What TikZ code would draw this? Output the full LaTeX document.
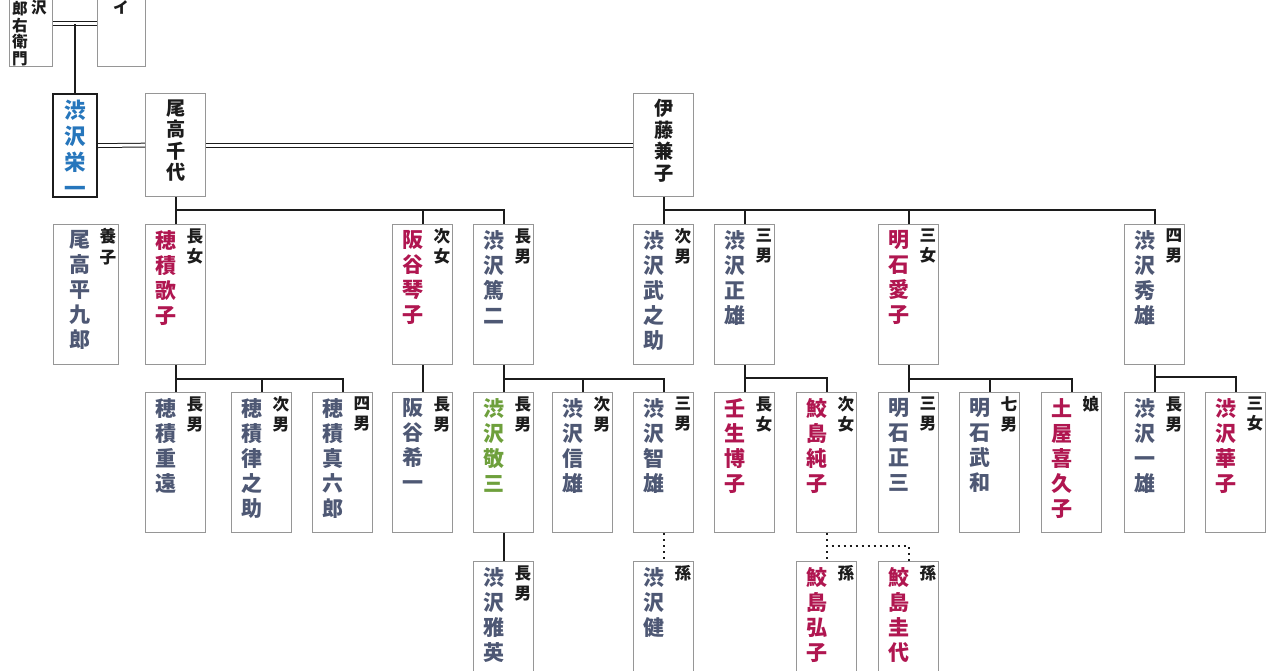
\documentclass[tikz,border=0pt]{standalone}
\usepackage{fontspec}
\setmainfont{Noto Sans CJK JP}
\definecolor{slate}{RGB}{78,88,116}
\definecolor{rose}{RGB}{176,22,80}
\definecolor{moss}{RGB}{110,160,60}
\definecolor{sky}{RGB}{38,118,188}
\definecolor{frame}{RGB}{150,150,150}
\definecolor{ink}{RGB}{28,28,28}
\begin{document}
\begin{tikzpicture}[x=0.5pt, y=-0.5pt,
    box/.style={draw=frame, line width=0.6pt, minimum width=30pt, minimum height=70pt, inner sep=0, anchor=north west},
    namecol/.style={font=\bfseries\fontsize{10.5}{12.5}\selectfont, align=center, inner sep=0, anchor=north},
    rolecol/.style={font=\bfseries\fontsize{8.3}{10.2}\selectfont, align=center, inner sep=0, anchor=north, text=ink},
    kin/.style={draw=ink, line width=1pt},
    wed/.style={draw=ink, double, double distance=1.4pt, line width=0.5pt},
    heir/.style={draw=ink, line width=1pt, dotted}]
    % 1. Page and clipping
    \fill[white] (0,0) rectangle (1280,670);
    \useasboundingbox (0,0) rectangle (1280,670);
    \clip (0,0) rectangle (1280,670);

    % 2. Top couple (cut off by the page edge)
    \node[box, minimum width=21.5pt, minimum height=43pt] (ichiro) at (9,-20) {};
    \node[box, minimum width=24pt, minimum height=43pt] (ei) at (97,-20) {};
    \node[rolecol, font=\bfseries\fontsize{7.8}{8.3}\selectfont] at (20,1) {郎\\右\\衛\\門};
    \node[rolecol, font=\bfseries\fontsize{7.8}{8.3}\selectfont] at (39,0) {沢};
    \node[rolecol, font=\bfseries\fontsize{7.8}{8.3}\selectfont] at (121,0) {イ};
    \draw[wed] (ichiro.east) -- (ei.west);

    % 3. Eiichi and his wives
    \node[box, draw=ink, line width=1.1pt, minimum width=22pt, minimum height=51.5pt] (eiichi) at (52,93) {};
    \node[box, minimum height=51.5pt] (chiyo) at (145,93) {};
    \node[box, minimum height=51.5pt] (kaneko) at (633,93) {};
    \node[namecol, text=sky, font=\bfseries\fontsize{10.8}{13}\selectfont] at ([shift={(0,7)}]eiichi.north) {渋\\沢\\栄\\一};
    \node[namecol, text=ink, font=\bfseries\fontsize{9.6}{10.8}\selectfont] at ([shift={(0,6)}]chiyo.north) {尾\\高\\千\\代};
    \node[namecol, text=ink, font=\bfseries\fontsize{9.6}{10.8}\selectfont] at ([shift={(0,6)}]kaneko.north) {伊\\藤\\兼\\子};
    \draw[kin] (eiichi.north) -- (eiichi.north |- ichiro.east);
    \draw[wed] (eiichi.east) -- (chiyo.west);
    \draw[wed] (chiyo.east) -- (kaneko.west);

    % 4. Adopted son
    \node[box, minimum width=32.5pt] (heikuro) at (53,224) {};
    \node[namecol, text=slate] at (80,230) {尾\\高\\平\\九\\郎};
    \node[rolecol] at (108,228) {養\\子};

    % 5. Children, grandchildren and great-grandchildren
    \foreach \id/\x/\y/\nm/\rl/\col in {
        utako/145/224/{穂\\積\\歌\\子}/{長\\女}/rose,
        kotoko/392/224/{阪\\谷\\琴\\子}/{次\\女}/rose,
        atsuji/473/224/{渋\\沢\\篤\\二}/{長\\男}/slate,
        takenosuke/633/224/{渋\\沢\\武\\之\\助}/{次\\男}/slate,
        masao/714/224/{渋\\沢\\正\\雄}/{三\\男}/slate,
        aiko/878/224/{明\\石\\愛\\子}/{三\\女}/rose,
        hideo/1124/224/{渋\\沢\\秀\\雄}/{四\\男}/slate,
        shigeto/145/392/{穂\\積\\重\\遠}/{長\\男}/slate,
        ritsunosuke/231/392/{穂\\積\\律\\之\\助}/{次\\男}/slate,
        shinrokuro/312/392/{穂\\積\\真\\六\\郎}/{四\\男}/slate,
        kiichi/392/392/{阪\\谷\\希\\一}/{長\\男}/slate,
        keizo/473/392/{渋\\沢\\敬\\三}/{長\\男}/moss,
        nobuo/552/392/{渋\\沢\\信\\雄}/{次\\男}/slate,
        tomoo/633/392/{渋\\沢\\智\\雄}/{三\\男}/slate,
        mibu/714/392/{壬\\生\\博\\子}/{長\\女}/rose,
        junko/796/392/{鮫\\島\\純\\子}/{次\\女}/rose,
        shozo/878/392/{明\\石\\正\\三}/{三\\男}/slate,
        takekazu/959/392/{明\\石\\武\\和}/{七\\男}/slate,
        kikuko/1041/392/{土\\屋\\喜\\久\\子}/{娘}/rose,
        kazuo/1124/392/{渋\\沢\\一\\雄}/{長\\男}/slate,
        hanako/1205/392/{渋\\沢\\華\\子}/{三\\女}/rose,
        masahide/473/561/{渋\\沢\\雅\\英}/{長\\男}/slate,
        ken/633/561/{渋\\沢\\健}/{孫}/slate,
        hiroko/796/561/{鮫\\島\\弘\\子}/{孫}/rose,
        kayo/878/561/{鮫\\島\\圭\\代}/{孫}/rose} {
        \node[box] (\id) at (\x,\y) {};
        \node[namecol, text=\col] at (\x+21,\y+6) {\nm};
        \node[rolecol] at (\x+50,\y+4) {\rl};
    }

    % 6. Family lines
    \foreach \c in {utako, kotoko, atsuji}
        \draw[kin] (chiyo.south) -- ++(0,13) -| (\c.north);
    \foreach \c in {takenosuke, masao, aiko, hideo}
        \draw[kin] (kaneko.south) -- ++(0,13) -| (\c.north);
    \foreach \c in {shigeto, ritsunosuke, shinrokuro}
        \draw[kin] (utako.south) -- ++(0,14) -| (\c.north);
    \draw[kin] (kotoko.south) -- (kiichi.north);
    \foreach \c in {keizo, nobuo, tomoo}
        \draw[kin] (atsuji.south) -- ++(0,14) -| (\c.north);
    \foreach \c in {mibu, junko}
        \draw[kin] (masao.south) -- ++(0,13) -| (\c.north);
    \foreach \c in {shozo, takekazu, kikuko}
        \draw[kin] (aiko.south) -- ++(0,14) -| (\c.north);
    \foreach \c in {kazuo, hanako}
        \draw[kin] (hideo.south) -- ++(0,12) -| (\c.north);
    \draw[kin] (keizo.south) -- (masahide.north);

    % 7. Grandchildren (dotted)
    \draw[heir] (tomoo.south) -- (ken.north);
    \draw[heir] (junko.south) -- (hiroko.north);
    \draw[heir] (junko.south) -- ++(0,13) -| (kayo.north);
\end{tikzpicture}
\end{document}
